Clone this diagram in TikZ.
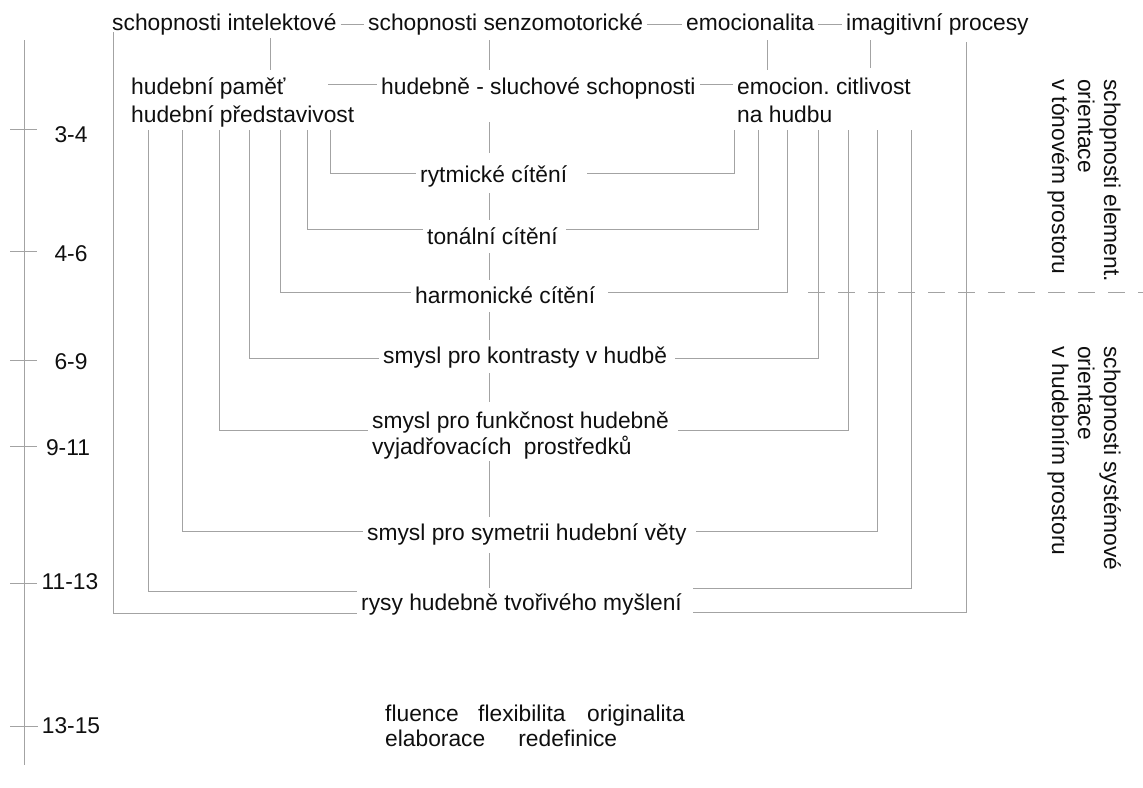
\documentclass[tikz,border=0pt]{standalone}
\usepackage{fontspec}
\setmainfont{Liberation Sans}
\newcommand\dfont{\fontsize{22.8pt}{28pt}\selectfont}
\definecolor{lc}{gray}{0.64}
\definecolor{tc}{gray}{0.06}
\begin{document}
\begin{tikzpicture}[x=1pt,y=-1pt,
  lbl/.style={anchor=base west, inner xsep=4pt, inner ysep=0pt, text height=17pt, text depth=5pt, font=\dfont, text=tc},
  axl/.style={lbl, anchor=base},
  rot/.style={lbl, rotate=-90},
  conn/.style={draw=lc, line width=1pt},
  gap/.style 2 args={shorten <=#1pt, shorten >=#2pt}]
\useasboundingbox (0,0) rectangle (1143,787);

% top row
\node[lbl] (ti) at (108,30) {schopnosti intelektové};
\node[lbl] (ts) at (364,30) {schopnosti senzomotorické};
\node[lbl] (te) at (682,30) {emocionalita};
\node[lbl] (tp) at (842,30) {imagitivní procesy};
% second row
\node[lbl] (hp1) at (127,94) {hudební paměť};
\node[lbl] (hp2) at (127,122) {hudební představivost};
\node[lbl] (hs) at (377,94) {hudebně - sluchové schopnosti};
\node[lbl] (ec1) at (733,94) {emocion.\ citlivost};
\node[lbl] (ec2) at (733,122) {na hudbu};
% middle column
\node[lbl] (ryt) at (416,182) {rytmické cítění};
\node[lbl] (ton) at (423,244) {tonální cítění};
\node[lbl] (har) at (411,303) {harmonické cítění};
\node[lbl] (kon) at (379,363) {smysl pro kontrasty v hudbě};
\node[lbl] (fun1) at (368,428) {smysl pro funkčnost hudebně};
\node[lbl] (fun2) at (368,454) {vyjadřovacích\hspace{6pt} prostředků};
\node[lbl] (sym) at (363,540) {smysl pro symetrii hudební věty};
\node[lbl] (ry) at (357,610) {rysy hudebně tvořivého myšlení};
\node[lbl] (bt1) at (381,721) {fluence\hspace{19.5pt}flexibilita\hspace{21.5pt}originalita};
\node[lbl] (bt2) at (381,746) {elaborace\hspace{33pt}redefinice};

% axis labels
\node[axl] (a1) at (71,142) {3-4};
\node[axl] (a2) at (71,261) {4-6};
\node[axl] (a3) at (71,369) {6-9};
\node[axl] (a4) at (68,455) {9-11};
\node[axl] (a5) at (70,589) {11-13};
\node[axl] (a6) at (71,733) {13-15};

% rotated side labels
\node[rot] (r1) at (1104,75) {schopnosti element.};
\node[rot] (r2) at (1078,75) {orientace};
\node[rot] (r3) at (1052,75) {v tónovém prostoru};
\node[rot] (s1) at (1104,342) {schopnosti systémové};
\node[rot] (s2) at (1078,342) {orientace};
\node[rot] (s3) at (1052,342) {v hudebním prostoru};

% helper coordinates
\coordinate (cx) at (489,0);
\coordinate (v0) at (113,0);
\coordinate (v1) at (270,0);
\coordinate (v3) at (767,0);
\coordinate (v4) at (870,0);
\coordinate (v5) at (966,0);
\coordinate (L1) at (148,0);
\coordinate (L2) at (182,0);
\coordinate (L3) at (219,0);
\coordinate (L4) at (249,0);
\coordinate (L5) at (280,0);
\coordinate (L6) at (307,0);
\coordinate (L7) at (330,0);
\coordinate (R1) at (911,0);
\coordinate (R2) at (877,0);
\coordinate (R3) at (848,0);
\coordinate (R4) at (818,0);
\coordinate (R5) at (787,0);
\coordinate (R6) at (758,0);
\coordinate (R7) at (734,0);
\coordinate (d1) at (328,84);
\coordinate (ds1) at (808,292);
\coordinate (ds2) at (1143,292);

% top row dashes
\draw[conn] (ti.east) -- (ts.west);
\draw[conn] (ts.east) -- (te.west);
\draw[conn] (te.east) -- (tp.west);
% second row dashes
\draw[conn] (d1) -- (d1 -| hs.west);
\draw[conn] ([yshift=4pt]hs.east) -- ([yshift=4pt]ec1.west);
% top verticals
\draw[conn,gap={3}{7}] (ti.south -| v1) -- (hp1.north -| v1);
\draw[conn,gap={5}{7}] (ts.south -| cx) -- (hs.north -| cx);
\draw[conn,gap={5}{7}] (te.south -| v3) -- (ec1.north -| v3);
\draw[conn,gap={5}{9}] (tp.south -| v4) -- (ec1.north -| v4);

% central spine
\draw[conn,gap={23}{12}] (hs.south -| cx) -- (ryt.north -| cx);
\draw[conn,gap={6}{7}] (ryt.south -| cx) -- (ton.north -| cx);
\draw[conn,gap={4}{6}] (ton.south -| cx) -- (har.north -| cx);
\draw[conn,gap={4}{6}] (har.south -| cx) -- (kon.north -| cx);
\draw[conn,gap={5}{9}] (kon.south -| cx) -- (fun1.north -| cx);
\draw[conn,gap={2}{6}] (fun2.south -| cx) -- (sym.north -| cx);
\draw[conn,gap={8}{5}] (sym.south -| cx) -- (ry.north -| cx);

% left branches
\draw[conn,shorten <=3pt] (hp2.south -| L7) |- ([yshift=3pt]ryt.west);
\draw[conn,shorten <=3pt] (hp2.south -| L6) |- ([yshift=9pt]ton.west);
\draw[conn,shorten <=3pt] (hp2.south -| L5) |- ([yshift=5pt]har.west);
\draw[conn,shorten <=3pt] (hp2.south -| L4) |- ([yshift=-1pt]kon.west);
\draw[conn,shorten <=3pt] (hp2.south -| L3) |- ([yshift=-8pt]fun1.west);
\draw[conn,shorten <=3pt] (hp2.south -| L2) |- ([yshift=3pt]sym.west);
\draw[conn,shorten <=3pt] (hp2.south -| L1) |- ([yshift=13pt]ry.west);
\draw[conn,shorten <=-3pt] (ti.south -| v0) |- ([yshift=-9pt]ry.west);

% right branches
\draw[conn,gap={3}{16}] (ec2.south -| R7) |- ([yshift=3pt]ryt.east);
\draw[conn,gap={3}{4}] (ec2.south -| R6) |- ([yshift=9pt]ton.east);
\draw[conn,gap={3}{9}] (ec2.south -| R5) |- ([yshift=5pt]har.east);
\draw[conn,gap={3}{4}] (ec2.south -| R4) |- ([yshift=-1pt]kon.east);
\draw[conn,gap={3}{5}] (ec2.south -| R3) |- ([yshift=-8pt]fun1.east);
\draw[conn,gap={3}{5}] (ec2.south -| R2) |- ([yshift=3pt]sym.east);
\draw[conn,gap={3}{7}] (ec2.south -| R1) |- ([yshift=16pt]ry.east);
\draw[conn,gap={7}{7}] (tp.south -| v5) |- ([yshift=-8pt]ry.east);

% separator
\draw[conn,dash pattern=on 17pt off 13pt] (ds1) -- (ds2);

% age axis
\draw[conn] (24,40) -- (24,765);
\draw[conn] (10,129) -- (37,129);
\draw[conn] (10,251) -- (37,251);
\draw[conn] (10,360) -- (37,360);
\draw[conn] (10,446) -- (37,446);
\draw[conn] (10,583) -- (37,583);
\draw[conn] (10,726) -- (38,726);
\end{tikzpicture}
\end{document}
